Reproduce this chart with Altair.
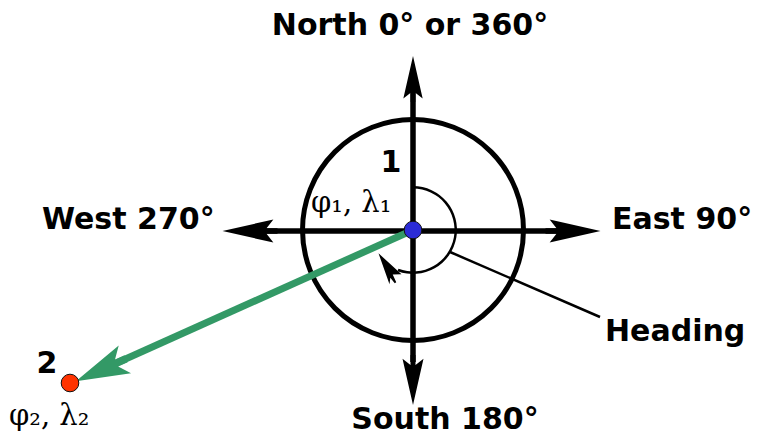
import altair as alt
import pandas as pd

# ---------------- diagram data (pixel frame of the 763x439 picture) ----------------
# straight strokes
seg_name = ["north-south axis", "west-east axis", "heading pointer", "course 1 to 2"]
seg_x = [413, 265, 450, 413]
seg_y = [92, 231, 252, 230]
seg_x2 = [413, 565, 600, 101]
seg_y2 = [362, 231, 317, 370]
seg_w = [5.5, 5.5, 2.5, 7]
seg_c = ["black", "black", "black", "#339966"]

# black arrowheads (N, S, W, E, heading arc)
head_x = [413, 413, 250, 573, 387]
head_y = [79, 380, 231, 231, 268]
head_angle = [0, 180, 270, 90, 330]
head_len = [46, 50, 55, 55, 34]
head_kind = ["axis", "axis", "axis", "axis", "arc"]

# green course arrowhead
gh_x = [101]
gh_y = [370]
gh_angle = [246]
gh_len = [55]

# compass ring and heading arc (centre = point 1)
centre_x = [413]
centre_y = [230]
ring_diam = 221
heading_rad = 3.5  # end of heading arc (radians, clockwise from north)

# points 1 and 2
pt_x = [413, 70]
pt_y = [230, 383]
pt_fill = ["#2b2bd6", "#ff3300"]

# labels
lab_c_text = ["North 0° or 360°", "South 180°"]
lab_c_x = [410, 445]
lab_c_y = [35, 429]
lab_l_text = ["West 270°", "East 90°", "Heading"]
lab_l_x = [42, 612, 605]
lab_l_y = [229, 229, 341]
num_text = ["1", "2"]
num_x = [391, 47]
num_y = [172, 373]
coord_text = ["φ₁, λ₁", "φ₂, λ₂"]
coord_x = [311, 9]
coord_y = [212, 425]

# ---------------- build ----------------
ARROW = "M0,-1L0.42,0.85L0.1,0.6L0.1,1L-0.1,1L-0.1,0.6L-0.42,0.85Z"
ARCHEAD = "M0,-1L0.55,0.75L0.1,0.5L0.05,1L-0.05,1L-0.12,0.6L-0.35,0.9Z"
GARROW = "M0,-1L0.55,0.95L0.14,0.62L0.14,1L-0.14,1L-0.14,0.62L-0.55,0.95Z"
shape_of = {"axis": ARROW, "arc": ARCHEAD}

xs = alt.Scale(domain=[8, 755], nice=False, zero=False)
ys = alt.Scale(domain=[8, 431], nice=False, zero=False, reverse=True)
X = alt.X("x:Q", scale=xs, axis=None)
Y = alt.Y("y:Q", scale=ys, axis=None)

segs = pd.DataFrame({"name": seg_name, "x": seg_x, "y": seg_y, "x2": seg_x2,
                     "y2": seg_y2, "w": seg_w, "c": seg_c})
heads = pd.DataFrame({"x": head_x, "y": head_y, "a": head_angle,
                      "s": [l * l for l in head_len],
                      "shape": [shape_of[k] for k in head_kind]})
gheads = pd.DataFrame({"x": gh_x, "y": gh_y, "a": gh_angle,
                       "s": [l * l for l in gh_len]})
centre = pd.DataFrame({"x": centre_x, "y": centre_y})
pts = pd.DataFrame({"x": pt_x, "y": pt_y, "c": pt_fill})
lab_c = pd.DataFrame({"x": lab_c_x, "y": lab_c_y, "t": lab_c_text})
lab_l = pd.DataFrame({"x": lab_l_x, "y": lab_l_y, "t": lab_l_text})
nums = pd.DataFrame({"x": num_x, "y": num_y, "t": num_text})
coords = pd.DataFrame({"x": coord_x, "y": coord_y, "t": coord_text})

black_segs = alt.Chart(segs[segs.c == "black"]).mark_rule().encode(
    x=X, y=Y, x2="x2:Q", y2="y2:Q",
    strokeWidth=alt.StrokeWidth("w:Q", scale=None),
    color=alt.Color("c:N", scale=None))
green_seg = alt.Chart(segs[segs.c != "black"]).mark_rule().encode(
    x=X, y=Y, x2="x2:Q", y2="y2:Q",
    strokeWidth=alt.StrokeWidth("w:Q", scale=None),
    color=alt.Color("c:N", scale=None))

ring = alt.Chart(centre).mark_point(shape="circle", filled=False, color="black",
                                    strokeWidth=5, opacity=1,
                                    size=ring_diam * ring_diam).encode(x=X, y=Y)
arc = alt.Chart(centre).mark_arc(innerRadius=41.5, outerRadius=44, color="black",
                                 theta=0, theta2=heading_rad).encode(x=X, y=Y)

head_layer = alt.Chart(heads).mark_point(filled=True, color="black",
                                         opacity=1, strokeWidth=0).encode(
    x=X, y=Y, angle=alt.Angle("a:Q", scale=None), size=alt.Size("s:Q", scale=None),
    shape=alt.Shape("shape:N", scale=None))
ghead_layer = alt.Chart(gheads).mark_point(shape=GARROW, filled=True, color="#339966",
                                           opacity=1, strokeWidth=0).encode(
    x=X, y=Y, angle=alt.Angle("a:Q", scale=None), size=alt.Size("s:Q", scale=None))

dots = alt.Chart(pts).mark_point(shape="circle", filled=True, size=310, opacity=1,
                                 stroke="#111111", strokeWidth=1).encode(
    x=X, y=Y, fill=alt.Fill("c:N", scale=None))

t_c = alt.Chart(lab_c).mark_text(font="DejaVu Sans", fontWeight="bold", fontSize=30,
                                 align="center", baseline="alphabetic",
                                 color="black").encode(x=X, y=Y, text="t:N")
t_l = alt.Chart(lab_l).mark_text(font="DejaVu Sans", fontWeight="bold", fontSize=30,
                                 align="left", baseline="alphabetic",
                                 color="black").encode(x=X, y=Y, text="t:N")
t_n = alt.Chart(nums).mark_text(font="DejaVu Sans", fontWeight="bold", fontSize=30,
                                align="center", baseline="alphabetic",
                                color="black").encode(x=X, y=Y, text="t:N")
t_k = alt.Chart(coords).mark_text(font="DejaVu Serif", fontSize=29,
                                  align="left", baseline="alphabetic",
                                  color="black").encode(x=X, y=Y, text="t:N")

chart = alt.layer(black_segs, ring, arc, green_seg, head_layer, ghead_layer, dots,
                  t_c, t_l, t_n, t_k).properties(
    width=747, height=423, padding=0, background="white"
).configure_view(stroke=None)

chart.save("out.html", embed_options={"renderer": "svg", "actions": False})
